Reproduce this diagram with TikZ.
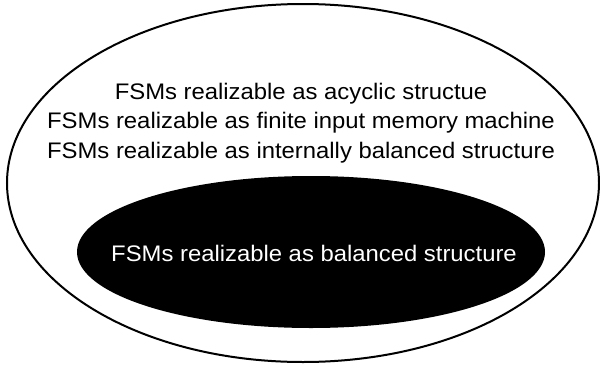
\documentclass[tikz,border=0pt]{standalone}
\usepackage{fontspec}
\setmainfont{Liberation Sans}
\newcommand{\widetext}[1]{\scalebox{1.06}[1]{#1}}
\begin{document}
\begin{tikzpicture}[x=1pt,y=-1pt,
  label/.style={font=\fontsize{22.5}{26}\selectfont, inner sep=0pt, anchor=base},
  outerset/.style={draw=black, line width=2pt, fill=white},
  innerset/.style={fill=black}]
  \useasboundingbox (0,0) rectangle (600,367);
  % outer set: all machines of the wider classes
  \draw[outerset] (303,183) ellipse [x radius=296, y radius=179];
  % inner set: balanced structures
  \fill[innerset] (311,252) ellipse [x radius=234, y radius=76];
  \node[label] (acyc) at (301,99) {\widetext{FSMs realizable as acyclic structue}};
  \node[label] (fim) at (301,128.5) {\widetext{FSMs realizable as finite input memory machine}};
  \node[label] (ibal) at (301,158) {\widetext{FSMs realizable as internally balanced structure}};
  \node[label, text=white] (bal) at (314,261) {\widetext{FSMs realizable as balanced structure}};
\end{tikzpicture}
\end{document}
